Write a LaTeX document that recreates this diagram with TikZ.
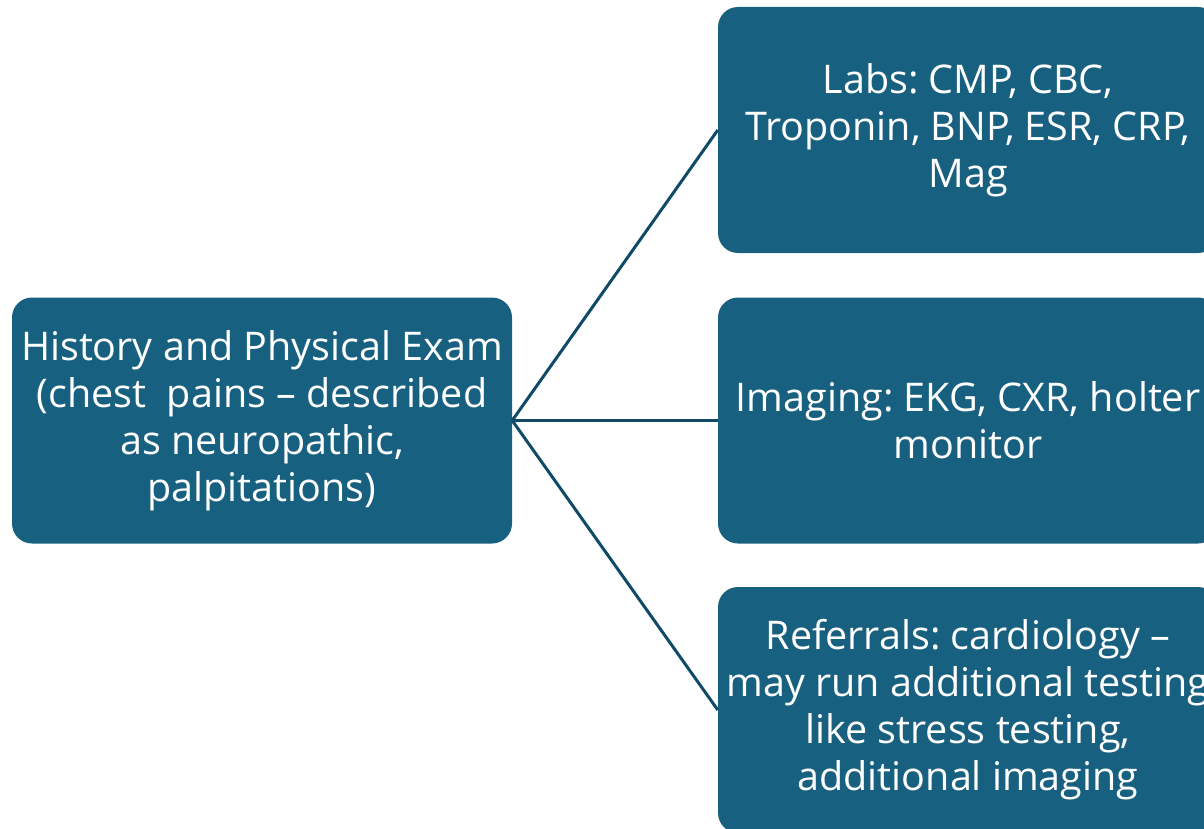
\documentclass[tikz,border=0pt]{standalone}
\usepackage{fontspec}
\setmainfont{Open Sans}
\frenchspacing
\begin{document}
\begin{tikzpicture}[x=1pt,y=-1pt]

\def\boxw{500pt}
\def\boxh{246pt}
\def\colx{968}

\definecolor{boxblue}{RGB}{24,96,128}
\definecolor{lineblue}{RGB}{16,74,102}

\tikzset{stepbox/.style = {draw=none, fill=boxblue, rounded corners=20pt, minimum width=\boxw, minimum height=\boxh, inner sep=0pt, text=white, align=center, font=\fontsize{39.5}{47}\selectfont}}
\tikzset{link/.style = {draw=lineblue, line width=3pt}}

\useasboundingbox (0,0) rectangle (1204,829);

\node[stepbox] (HP) at (262,420.5) {History and Physical Exam\\(chest\ \ pains -- described\\as neuropathic,\\palpitations)};
\node[stepbox] (Labs) at (\colx,130) {Labs: CMP, CBC,\\Troponin, BNP, ESR, CRP,\\Mag};
\node[stepbox] (Img) at (\colx,420.5) {Imaging: EKG, CXR, holter\\monitor};
\node[stepbox] (Ref) at (\colx,710) {Referrals: cardiology --\\may run additional testing\\like stress testing,\\additional imaging};

\draw[link] (HP.east) -- (Labs.west);
\draw[link] (HP.east) -- (Img.west);
\draw[link] (HP.east) -- (Ref.west);

\end{tikzpicture}
\end{document}
